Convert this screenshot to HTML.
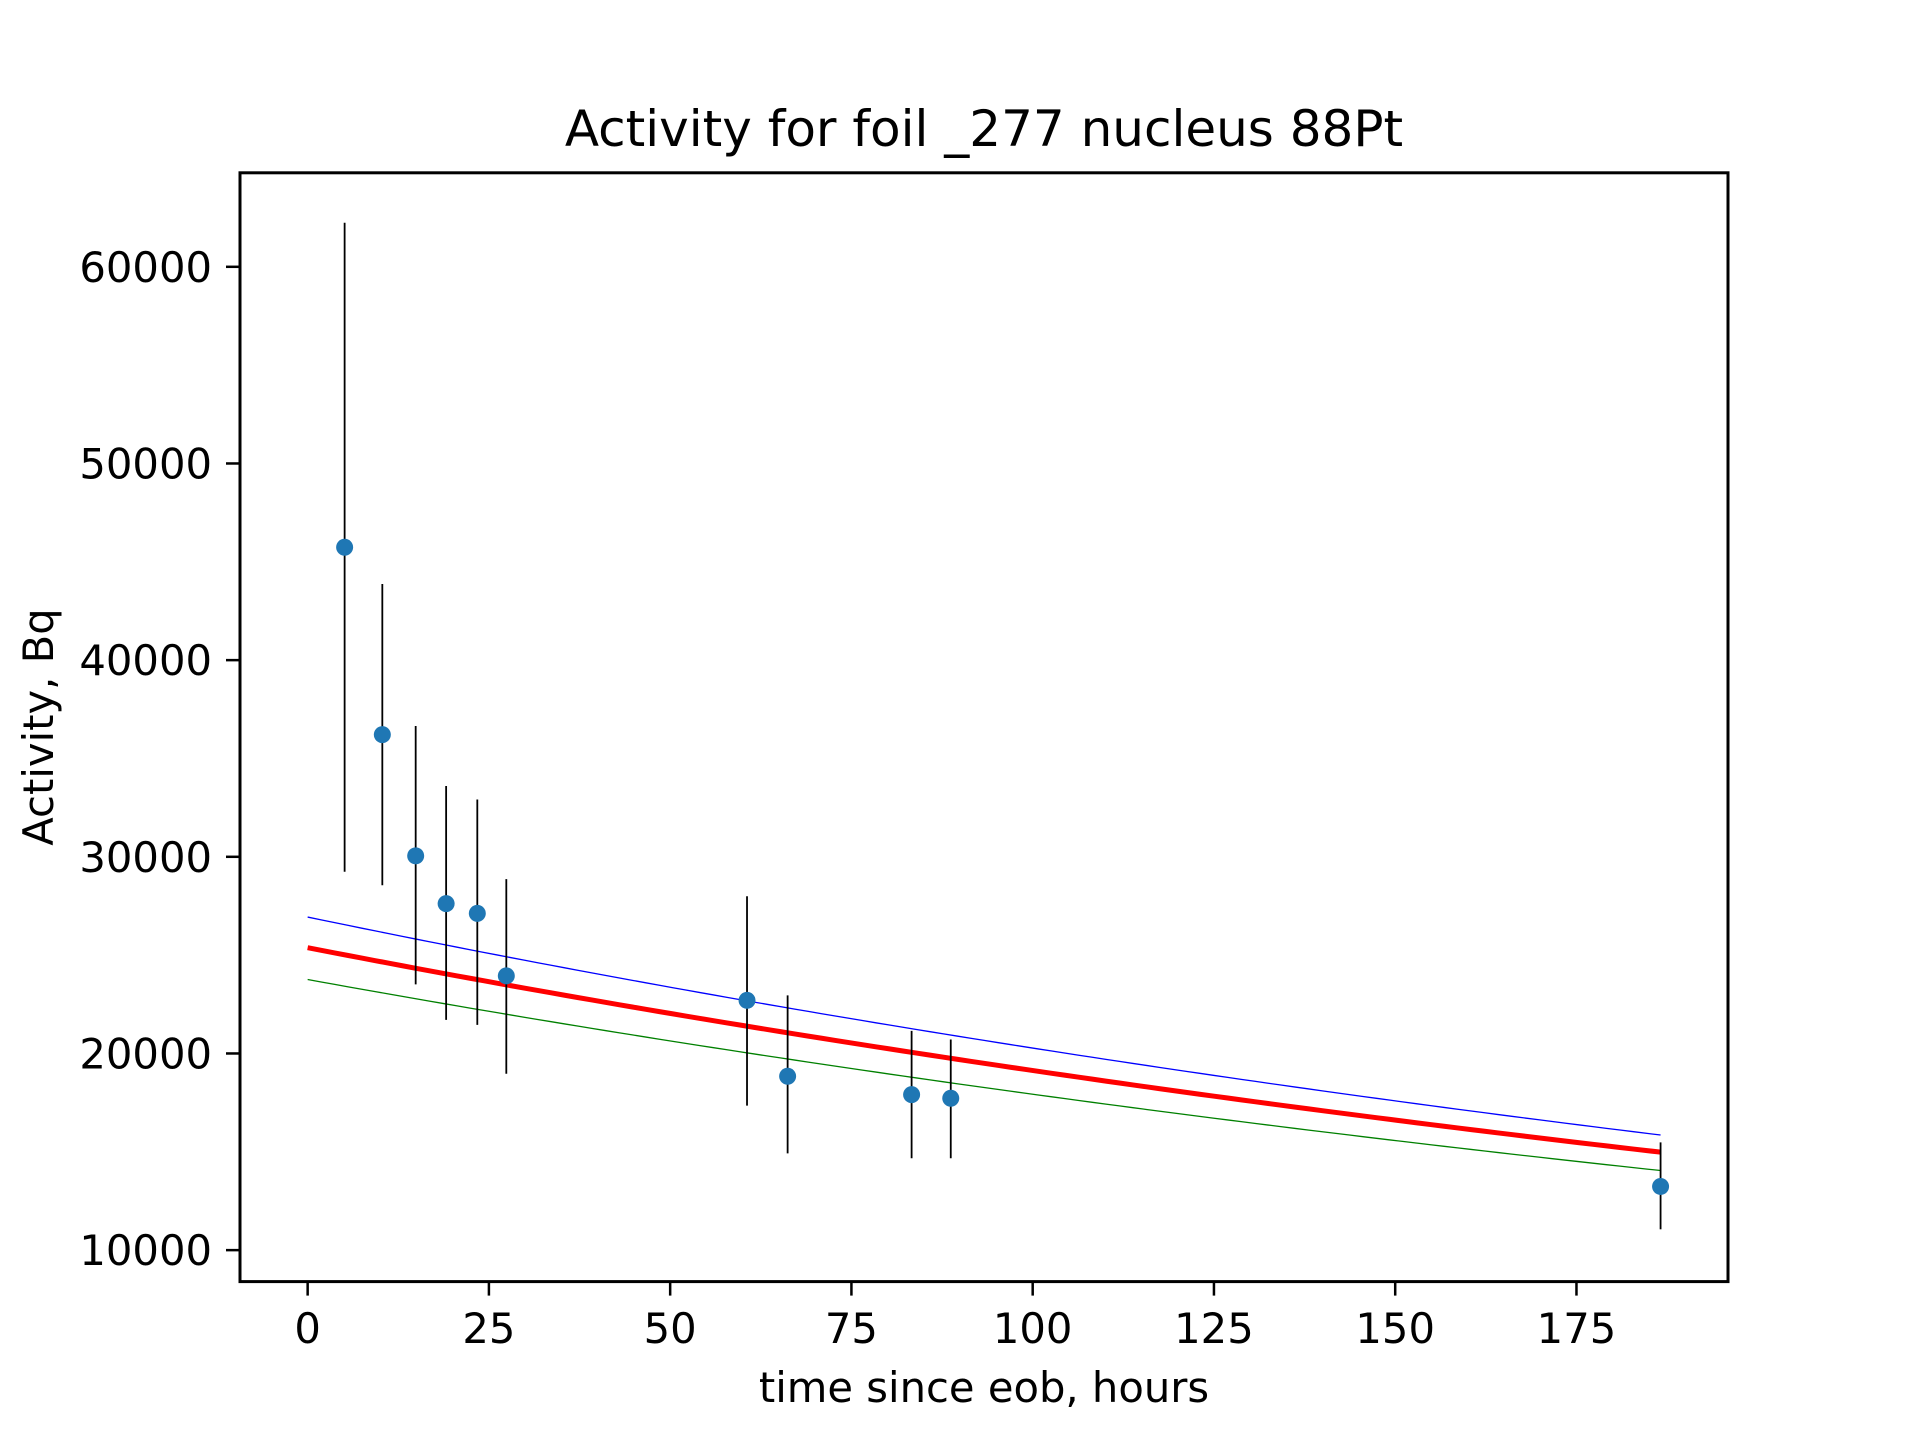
<!DOCTYPE html>
<html><head><meta charset="utf-8"><style>
body{margin:0;background:#fff}
svg{display:block}
text{font-family:"DejaVu Sans","Liberation Sans",sans-serif;fill:#000}
</style></head><body>
<svg id="chart" width="1920" height="1440" viewBox="0 0 1920 1440" xmlns="http://www.w3.org/2000/svg">
<rect width="1920" height="1440" fill="#fff"/>
<text x="984" y="146" font-size="50" text-anchor="middle">Activity for foil _277 nucleus 88Pt</text>
<text x="984" y="1402" font-size="41.7" text-anchor="middle">time since eob, hours</text>
<text transform="translate(53,727) rotate(-90)" font-size="41.7" text-anchor="middle">Activity, Bq</text>
<g id="plot"></g>
</svg>
<script>
const times = [5.1, 10.3, 14.9, 19.1, 23.4, 27.4, 60.6, 66.2, 83.3, 88.7, 186.6];
const activity = [45741, 36214, 30050, 27621, 27123, 23948, 22702, 18842, 17908, 17721, 13238];
const errUpper = [62242, 43873, 36650, 33599, 32914, 28867, 27995, 22951, 21146, 20710, 15479];
const errLower = [29240, 28555, 23512, 21706, 21457, 18966, 17347, 14919, 14670, 14670, 11059];
const fitA0 = [25380, 26936, 23760];
const fitEnd = [14981, 15853, 14047];
const fitNames = ['fit-curve', 'fit-upper-bound', 'fit-lower-bound'];
const xTicks = [0, 25, 50, 75, 100, 125, 150, 175];
const yTicks = [10000, 20000, 30000, 40000, 50000, 60000];

const L=240,R=1728,T=172.8,B=1281.6;
const xMin=-9.33,xMax=195.9,yMin=8400,yMax=64780;
const sx=v=>L+(v-xMin)/(xMax-xMin)*(R-L);
const sy=v=>B-(v-yMin)/(yMax-yMin)*(B-T);
const NS='http://www.w3.org/2000/svg';
const svg=document.getElementById('chart');
function mk(tag,attrs,parent){const e=document.createElementNS(NS,tag);for(const k in attrs)e.setAttribute(k,attrs[k]);(parent||svg).appendChild(e);return e;}
const tEnd=186.6;
const colors=['#ff0000','#0000ff','#008000'];
const widths=[5,1.3,1.3];
for(let f=0;f<3;f++){
  const k=Math.log(fitA0[f]/fitEnd[f])/tEnd;
  let d='';
  for(let i=0;i<=100;i++){const t=tEnd*i/100;const y=fitA0[f]*Math.exp(-k*t);d+=(i?'L':'M')+sx(t).toFixed(2)+','+sy(y).toFixed(2);}
  const p=mk('path',{d:d,fill:'none',stroke:colors[f],'stroke-width':widths[f]});
  
  
}
for(let i=0;i<times.length;i++){
  const l=mk('line',{x1:sx(times[i]),x2:sx(times[i]),y1:sy(errUpper[i]),y2:sy(errLower[i]),stroke:'#000','stroke-width':1.8});
  
  
}
for(let i=0;i<times.length;i++){
  const c=mk('circle',{cx:sx(times[i]),cy:sy(activity[i]),r:8.5,fill:'#1f77b4'});
  
  
}
const fr=mk('rect',{x:L,y:T,width:R-L,height:B-T,fill:'none',stroke:'#000','stroke-width':3});


xTicks.forEach(v=>{
  const x=sx(v);
  mk('line',{x1:x,x2:x,y1:B,y2:B+14,stroke:'#000','stroke-width':2.5});
  const t=mk('text',{x:x,y:1343,'font-size':41.7,'text-anchor':'middle'});
  t.textContent=v;
  
  
});
yTicks.forEach(v=>{
  const y=sy(v);
  mk('line',{x1:L-14,x2:L,y1:y,y2:y,stroke:'#000','stroke-width':2.5});
  const t=mk('text',{x:212,y:y+15,'font-size':41.7,'text-anchor':'end'});
  t.textContent=v;
  
  
});
</script>
</body></html>
